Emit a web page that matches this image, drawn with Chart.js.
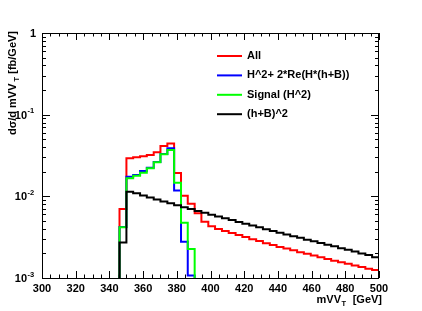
<!DOCTYPE html>
<html>
<head>
<meta charset="utf-8">
<script src="https://cdn.jsdelivr.net/npm/chart.js@4.4.0/dist/chart.umd.min.js"></script>
<style>
html, body { margin: 0; padding: 0; background: #fff; }
#wrap { width: 422px; height: 311px; }
</style>
</head>
<body>
<div id="wrap"><canvas id="c" width="422" height="311"></canvas></div>
<script>
// histogram bin edges, GeV (38 bins from 346 to 500)
var binEdges = [346, 350.1, 354.1, 358.2, 362.2, 366.3, 370.3, 374.4, 378.4, 382.5,
    386.5, 390.6, 394.6, 398.7, 402.7, 406.8, 410.8, 414.9, 418.9, 423.0,
    427.1, 431.1, 435.2, 439.2, 443.3, 447.3, 451.4, 455.4, 459.5, 463.5,
    467.6, 471.6, 475.7, 479.7, 483.8, 487.8, 491.9, 495.9, 500];

// dsigma/dmVV_T, fb/GeV
var allValues = [0.0070, 0.0292, 0.0301, 0.0310, 0.0321, 0.0347, 0.0414, 0.0442, 0.0193, 0.0102,
    0.0081, 0.0062, 0.0049, 0.0043, 0.00397, 0.00375, 0.00355, 0.00335, 0.00317, 0.00299,
    0.00283, 0.00267, 0.00253, 0.00240, 0.00229, 0.00218, 0.00207, 0.00198, 0.00188, 0.00179,
    0.00171, 0.00163, 0.00156, 0.00149, 0.00142, 0.00136, 0.00130, 0.00125];
var interfValues = [0.0042, 0.0174, 0.0183, 0.0204, 0.0224, 0.0263, 0.0330, 0.0388, 0.0118, 0.00277,
    0.00107];
var signalValues = [0.00417, 0.0166, 0.0179, 0.0195, 0.0221, 0.0261, 0.0328, 0.0370, 0.0147, 0.00474,
    0.00226];
var bkgValues = [0.00273, 0.01138, 0.01088, 0.01023, 0.00967, 0.00914, 0.00863, 0.00820, 0.00776, 0.00733,
    0.00698, 0.00660, 0.00628, 0.00596, 0.00566, 0.00538, 0.00512, 0.00486, 0.00462, 0.00440,
    0.00418, 0.00396, 0.00375, 0.00357, 0.00341, 0.00325, 0.00310, 0.00295, 0.00281, 0.00268,
    0.00255, 0.00244, 0.00232, 0.00221, 0.00211, 0.00200, 0.00191, 0.00179];

var seriesNames = ['All', 'H^2+ 2*Re(H*(h+B))', 'Signal (H^2)', '(h+B)^2'];
var seriesColors = ['#ff0000', '#0000ff', '#00ff00', '#000000'];

var xMin = 300, xMax = 500;
var yMin = 0.001, yMax = 1;
var xTicks = [300, 320, 340, 360, 380, 400, 420, 440, 460, 480, 500];
var yTicks = [0.001, 0.01, 0.1, 1];
var yTickBase = ['10', '10', '10', '1'];
var yTickExp = ['-3', '-2', '-1', ''];

var FONT = '"Liberation Sans", Arial, Helvetica, sans-serif';

// outline of a histogram as step points
function histo(values) {
    var pts = [{x: binEdges[0], y: yMin}];
    for (var i = 0; i < values.length; i++) {
	pts.push({x: binEdges[i], y: values[i]});
    }
    pts.push({x: binEdges[values.length], y: values[values.length - 1]});
    pts.push({x: binEdges[values.length], y: yMin});
    return pts;
}

var seriesValues = [allValues, interfValues, signalValues, bkgValues];
var datasets = seriesValues.map(function(v, i) {
    return {
	label: seriesNames[i],
	data: histo(v),
	borderColor: seriesColors[i],
	borderWidth: 2,
	stepped: 'before',
	pointRadius: 0,
	fill: false,
	order: 3 - i
    };
});

var rootFrame = {
    id: 'rootFrame',
    beforeDatasetsDraw: function(chart) {
	var ctx = chart.ctx, a = chart.chartArea;
	var xs = chart.scales.x, ys = chart.scales.y;
	ctx.save();
	ctx.strokeStyle = '#000';
	ctx.lineWidth = 1;
	ctx.strokeRect(a.left + 0.5, a.top + 0.5, a.right - a.left - 1, a.bottom - a.top);
	ctx.beginPath();
	// x ticks, bottom and top
	for (var v = xMin; v <= xMax; v += 5) {
	    var px = Math.round(xs.getPixelForValue(v)) + 0.5;
	    var len = (v % 20 === 0) ? 7 : 3.5;
	    ctx.moveTo(px, a.bottom); ctx.lineTo(px, a.bottom - len);
	    ctx.moveTo(px, a.top); ctx.lineTo(px, a.top + len);
	}
	// y ticks, left and right
	for (var d = 0; d < yTicks.length; d++) {
	    for (var m = 1; m <= 9; m++) {
		var val = yTicks[d] * m;
		if (val > yMax) break;
		var py = Math.round(ys.getPixelForValue(val)) + 0.5;
		var l = (m === 1) ? 8 : 4;
		ctx.moveTo(a.left, py); ctx.lineTo(a.left + l, py);
		ctx.moveTo(a.right, py); ctx.lineTo(a.right - l, py);
	    }
	}
	ctx.stroke();
	ctx.restore();
    },
    afterDraw: function(chart) {
	var ctx = chart.ctx, a = chart.chartArea;
	var xs = chart.scales.x, ys = chart.scales.y;
	ctx.save();
	ctx.fillStyle = '#000';
	// x tick labels
	ctx.font = 'bold 11px ' + FONT;
	ctx.textAlign = 'center';
	ctx.textBaseline = 'alphabetic';
	xTicks.forEach(function(v) {
	    ctx.fillText(String(v), xs.getPixelForValue(v), 292);
	});
	// y tick labels
	yTicks.forEach(function(v, i) {
	    var py = ys.getPixelForValue(v);
	    ctx.font = 'bold 11px ' + FONT;
	    ctx.textAlign = 'right';
	    if (yTickExp[i]) {
		ctx.fillText(yTickBase[i], 27, py + 4);
		ctx.font = 'bold 7.5px ' + FONT;
		ctx.textAlign = 'left';
		ctx.fillText(yTickExp[i], 27.5, py - 1.5);
	    } else {
		ctx.fillText(yTickBase[i], 36, py + 4);
	    }
	});
	// x title
	ctx.textAlign = 'left';
	ctx.font = 'bold 11px ' + FONT;
	var t1 = 'mVV', t3 = '  [GeV]';
	var w1 = ctx.measureText(t1).width, w3 = ctx.measureText(t3).width;
	ctx.font = 'bold 7.5px ' + FONT;
	var w2 = ctx.measureText('T').width;
	var x0 = 382 - (w1 + w2 + 1 + w3);
	ctx.font = 'bold 11px ' + FONT;
	ctx.fillText(t1, x0, 303);
	ctx.fillText(t3, x0 + w1 + w2 + 1, 303);
	ctx.font = 'bold 7.5px ' + FONT;
	ctx.fillText('T', x0 + w1 + 0.5, 306);
	// y title, rotated, aligned to the top
	ctx.translate(16, 31);
	ctx.rotate(-Math.PI / 2);
	ctx.font = 'bold 11px ' + FONT;
	var y1 = 'd\u03c3/d mVV', y3 = ' [fb/GeV]';
	var v1 = ctx.measureText(y1).width, v3 = ctx.measureText(y3).width;
	ctx.font = 'bold 7.5px ' + FONT;
	var v2 = ctx.measureText(' T').width;
	var s0 = -(v1 + v2 + v3);
	ctx.font = 'bold 11px ' + FONT;
	ctx.fillText(y1, s0, 0);
	ctx.fillText(y3, s0 + v1 + v2, 0);
	ctx.font = 'bold 7.5px ' + FONT;
	ctx.fillText(' T', s0 + v1, 3);
	ctx.restore();

	// legend
	ctx.save();
	ctx.font = 'bold 11px ' + FONT;
	ctx.textAlign = 'left';
	ctx.textBaseline = 'middle';
	chart.data.datasets.forEach(function(ds, i) {
	    var ly = 56 + i * 19.4;
	    ctx.strokeStyle = ds.borderColor;
	    ctx.lineWidth = 2;
	    ctx.beginPath();
	    ctx.moveTo(217, ly); ctx.lineTo(242, ly);
	    ctx.stroke();
	    ctx.fillStyle = '#000';
	    ctx.fillText(ds.label, 247, ly);
	});
	ctx.restore();
    }
};

new Chart(document.getElementById('c').getContext('2d'), {
    type: 'line',
    data: { datasets: datasets },
    options: {
	responsive: false,
	animation: false,
	devicePixelRatio: 1,
	layout: { padding: { left: 42, right: 43, top: 33, bottom: 33 } },
	plugins: { legend: { display: false }, tooltip: { enabled: false } },
	scales: {
	    x: { type: 'linear', min: xMin, max: xMax, display: false },
	    y: { type: 'logarithmic', min: yMin, max: yMax, display: false }
	}
    },
    plugins: [rootFrame]
});
</script>
</body>
</html>
